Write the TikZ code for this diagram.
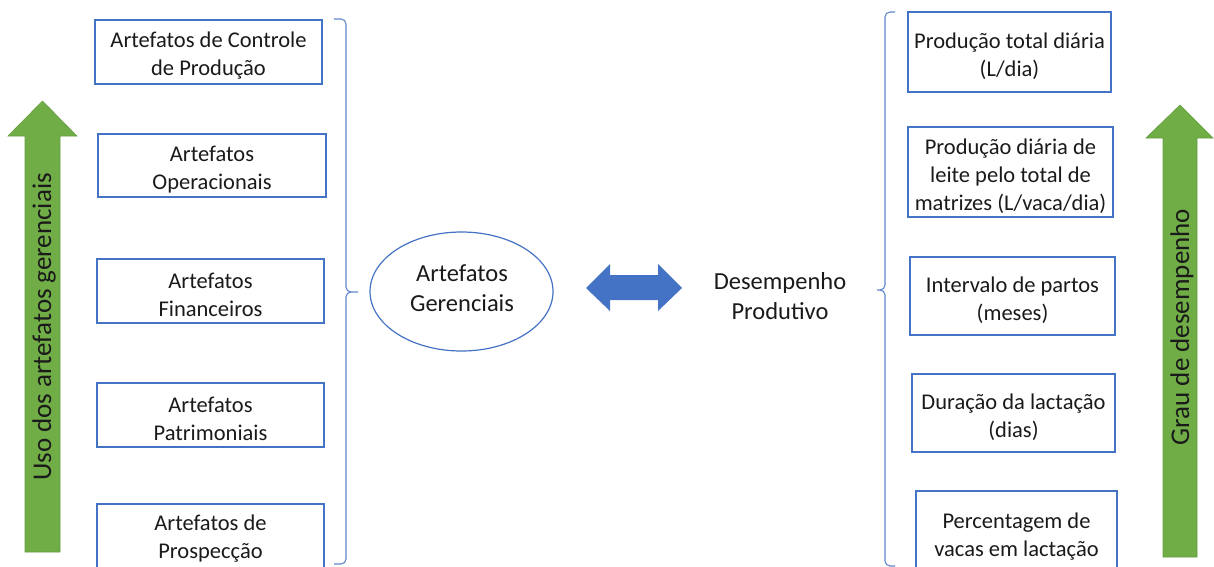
\documentclass[tikz,border=0pt]{standalone}
\usepackage{fontspec}
\setmainfont{Carlito}
\usetikzlibrary{shapes.geometric}
\definecolor{oblue}{HTML}{4472C4}
\definecolor{ogreen}{HTML}{70AD47}
\definecolor{txt}{HTML}{1A1A1A}
\tikzset{
  box/.style={draw=oblue, line width=1.2pt, inner sep=0pt},
  boxtext/.style={inner sep=0pt, align=center, text=txt, yshift=-4pt,
    font=\fontsize{22.5}{28}\selectfont},
  brace/.style={draw=oblue!85, line width=1.1pt},
  bigarrow/.style={fill=ogreen, draw=ogreen!90!black, line width=0.6pt},
  arrowtext/.style={rotate=90, text=txt, font=\fontsize{27}{32}\selectfont},
  midtext/.style={align=center, text=txt, font=\fontsize{24.5}{30}\selectfont}
}
\begin{document}
\begin{tikzpicture}[x=1pt,y=-1pt]
\useasboundingbox (0,0) rectangle (1214,566);
\begin{scope}
\clip (0,0) rectangle (1214,566);
% left boxes
\node[box, minimum width=227pt, minimum height=64pt] (b1) at (208.5,52) {};
\node[boxtext] (b1t) at (b1) {Artefatos de Controle\\de Produção};
\node[box, minimum width=228pt, minimum height=63pt] (b2) at (212,165.5) {};
\node[boxtext] (b2t) at (b2) {Artefatos\\Operacionais};
\node[box, minimum width=227pt, minimum height=64pt] (b3) at (210.5,291) {};
\node[boxtext] (b3t) at (b3) {Artefatos\\Financeiros};
\node[box, minimum width=227pt, minimum height=64pt] (b4) at (210.5,415) {};
\node[boxtext] (b4t) at (b4) {Artefatos\\Patrimoniais};
\node[box, minimum width=227pt, minimum height=64pt] (b5) at (210.5,536) {};
\node[boxtext] (b5t) at ([yshift=1pt]b5) {Artefatos de\\Prospecção};
% right boxes
\node[box, minimum width=203pt, minimum height=80pt] (r1) at (1009.5,52) {};
\node[boxtext] (r1t) at (r1) {Produção total diária\\(L/dia)};
\node[box, minimum width=205pt, minimum height=90pt] (r2) at (1010.5,172) {};
\node[boxtext] (r2t) at (r2) {Produção diária de\\leite pelo total de\\matrizes (L/vaca/dia)};
\node[box, minimum width=205pt, minimum height=78pt] (r3) at (1012.5,296) {};
\node[boxtext] (r3t) at (r3) {Intervalo de partos\\(meses)};
\node[box, minimum width=203pt, minimum height=78pt] (r4) at (1013.5,413) {};
\node[boxtext] (r4t) at (r4) {Duração da lactação\\(dias)};
\node[box, minimum width=201pt, minimum height=84pt] (r5) at (1016.5,533) {};
\node[boxtext] (r5t) at (r5) {Percentagem de\\vacas em lactação};
% left brace
\coordinate (lbT) at (334,19);
\coordinate (lbB) at (334,564);
\coordinate (lbM) at (358,292);
\draw[brace] (lbT) -- (341,19) to[out=0,in=90] (346,24) -- (346,287) to[out=-90,in=180] (351,292) -- (lbM);
\draw[brace] (351,292) to[out=180,in=90] (346,297) -- (346,559) to[out=-90,in=0] (341,564) -- (lbB);
% right brace
\coordinate (rbT) at (895,12);
\coordinate (rbB) at (895,566);
\coordinate (rbM) at (877,290);
\draw[brace] (rbT) -- (890,12) to[out=180,in=90] (885,17) -- (885,285) to[out=-90,in=0] (880,290) -- (rbM);
\draw[brace] (880,290) to[out=0,in=90] (885,295) -- (885,561) to[out=-90,in=180] (890,566) -- (rbB);
\end{scope}
% ellipse
\node[draw=oblue, line width=1.2pt, ellipse, minimum width=183pt, minimum height=119pt, inner sep=0pt] (ell) at (461.5,291.5) {};
\node[midtext] (ellt) at (462,288) {Artefatos\\Gerenciais};
% double arrow
\fill[oblue] (586,288) -- (610,264) -- (610,275) -- (658,275) -- (658,264) -- (682,288)
  -- (658,311) -- (658,300) -- (610,300) -- (610,311) -- cycle;
\node[midtext] (dp) at (780,296) {Desempenho\\Produtivo};
% green arrows
\filldraw[bigarrow] (25,552) -- (25,136) -- (8,136) -- (42.5,101) -- (77,136) -- (60,136) -- (60,552) -- cycle;
\node[arrowtext] (lt) at (44,327) {Uso dos artefatos gerenciais};
\filldraw[bigarrow] (1163,557) -- (1163,138) -- (1146,138) -- (1180,105) -- (1213,138) -- (1197,138) -- (1197,557) -- cycle;
\node[arrowtext] (rt) at (1182,327) {Grau de desempenho};
\end{tikzpicture}
\end{document}
